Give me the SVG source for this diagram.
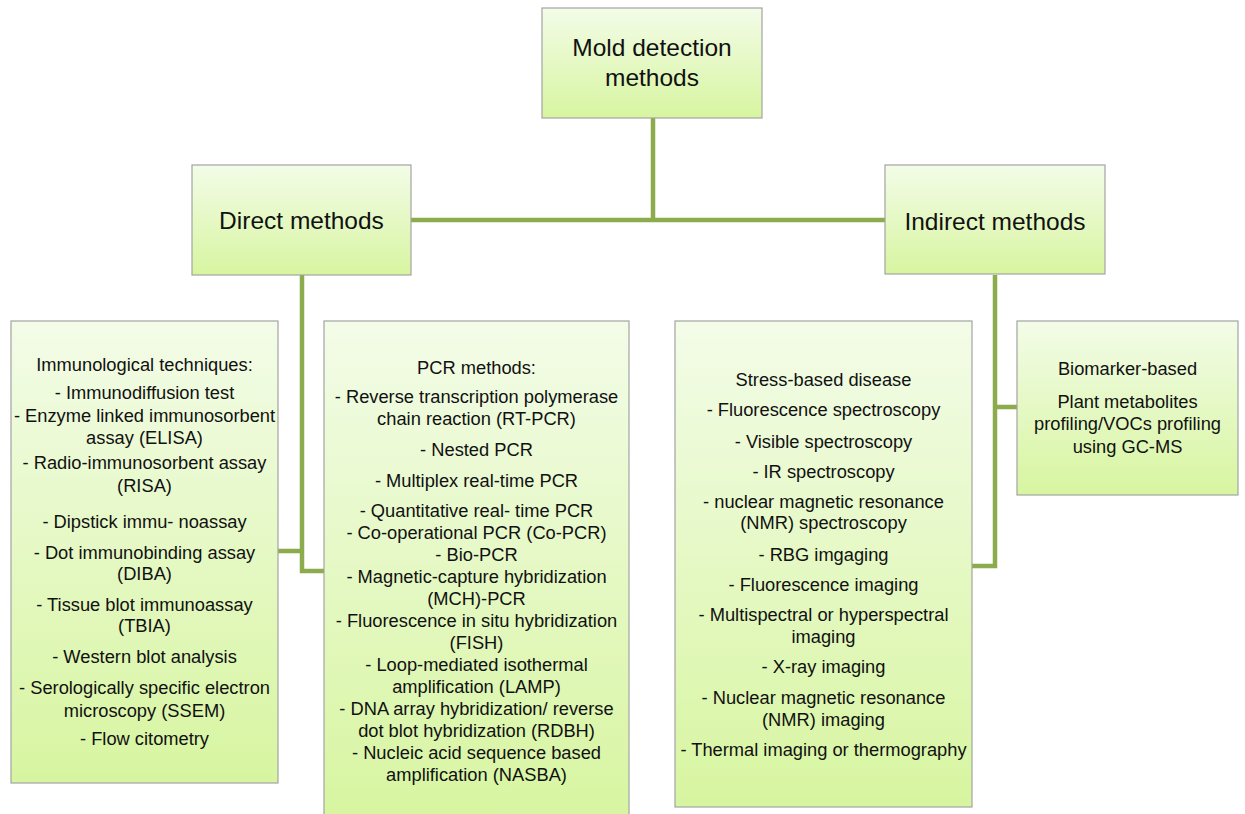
<svg xmlns="http://www.w3.org/2000/svg" width="1245" height="814" viewBox="0 0 1245 814">
<defs>
<linearGradient id="g" x1="0" y1="0" x2="0" y2="1">
<stop offset="0" stop-color="#f3fce8"/>
<stop offset="1" stop-color="#d7f5a0"/>
</linearGradient>
<style>
.box{fill:url(#g);stroke:#a3a3a3;stroke-width:1.2}
.t{font-family:"Liberation Sans",Arial,sans-serif;font-size:18.3px;fill:#111;text-anchor:middle}
.h{font-family:"Liberation Sans",Arial,sans-serif;font-size:24.5px;fill:#111;text-anchor:middle}
.c{fill:none;stroke:#8cab4d;stroke-width:4.5}
</style>
</defs>
<rect width="1245" height="814" fill="#fff"/>
<g id="connectors">
<path class="c" d="M653 118V220M411 220H885"/>
<path class="c" d="M302 275V571H324M278 551H302"/>
<path class="c" d="M995 275V566H972M995 407H1017"/>
</g>
<g id="root">
<rect class="box" x="542" y="8" width="220" height="110"/>
<text class="h" x="652" y="56">Mold detection</text>
<text class="h" x="652" y="86">methods</text>
</g>
<g id="direct">
<rect class="box" x="192" y="165" width="219" height="110"/>
<text class="h" x="301.5" y="229">Direct methods</text>
</g>
<g id="indirect">
<rect class="box" x="885" y="165" width="220" height="109"/>
<text class="h" x="995" y="230">Indirect methods</text>
</g>
<g id="immuno">
<rect class="box" x="11" y="321" width="267" height="462"/>
<text class="t" x="144.5" y="371">Immunological techniques:</text>
<text class="t" x="144.5" y="399">- Immunodiffusion test</text>
<text class="t" x="144.5" y="422">- Enzyme linked immunosorbent</text>
<text class="t" x="144.5" y="444">assay (ELISA)</text>
<text class="t" x="144.5" y="469">- Radio-immunosorbent assay</text>
<text class="t" x="144.5" y="492">(RISA)</text>
<text class="t" x="144.5" y="528">- Dipstick immu- noassay</text>
<text class="t" x="144.5" y="559">- Dot immunobinding assay</text>
<text class="t" x="144.5" y="580">(DIBA)</text>
<text class="t" x="144.5" y="611">- Tissue blot immunoassay</text>
<text class="t" x="144.5" y="632">(TBIA)</text>
<text class="t" x="144.5" y="663">- Western blot analysis</text>
<text class="t" x="144.5" y="694">- Serologically specific electron</text>
<text class="t" x="144.5" y="717">microscopy (SSEM)</text>
<text class="t" x="144.5" y="745">- Flow citometry</text>
</g>
<g id="pcr">
<rect class="box" x="324" y="321" width="305" height="500"/>
<text class="t" x="476.5" y="374">PCR methods:</text>
<text class="t" x="476.5" y="403">- Reverse transcription polymerase</text>
<text class="t" x="476.5" y="425">chain reaction (RT-PCR)</text>
<text class="t" x="476.5" y="456">- Nested PCR</text>
<text class="t" x="476.5" y="487">- Multiplex real-time PCR</text>
<text class="t" x="476.5" y="517">- Quantitative real- time PCR</text>
<text class="t" x="476.5" y="539">- Co-operational PCR (Co-PCR)</text>
<text class="t" x="476.5" y="561">- Bio-PCR</text>
<text class="t" x="476.5" y="583">- Magnetic-capture hybridization</text>
<text class="t" x="476.5" y="605">(MCH)-PCR</text>
<text class="t" x="476.5" y="627">- Fluorescence in situ hybridization</text>
<text class="t" x="476.5" y="649">(FISH)</text>
<text class="t" x="476.5" y="671">- Loop-mediated isothermal</text>
<text class="t" x="476.5" y="693">amplification (LAMP)</text>
<text class="t" x="476.5" y="715">- DNA array hybridization/ reverse</text>
<text class="t" x="476.5" y="737">dot blot hybridization (RDBH)</text>
<text class="t" x="476.5" y="759">- Nucleic acid sequence based</text>
<text class="t" x="476.5" y="781">amplification (NASBA)</text>
</g>
<g id="stress">
<rect class="box" x="675" y="321" width="297" height="486"/>
<text class="t" x="823.5" y="386">Stress-based disease</text>
<text class="t" x="823.5" y="416">- Fluorescence spectroscopy</text>
<text class="t" x="823.5" y="448">- Visible spectroscopy</text>
<text class="t" x="823.5" y="478">- IR spectroscopy</text>
<text class="t" x="823.5" y="508">- nuclear magnetic resonance</text>
<text class="t" x="823.5" y="529">(NMR) spectroscopy</text>
<text class="t" x="823.5" y="561">- RBG imgaging</text>
<text class="t" x="823.5" y="591">- Fluorescence imaging</text>
<text class="t" x="823.5" y="621">- Multispectral or hyperspectral</text>
<text class="t" x="823.5" y="643">imaging</text>
<text class="t" x="823.5" y="673">- X-ray imaging</text>
<text class="t" x="823.5" y="704">- Nuclear magnetic resonance</text>
<text class="t" x="823.5" y="726">(NMR) imaging</text>
<text class="t" x="823.5" y="756">- Thermal imaging or thermography</text>
</g>
<g id="biomarker">
<rect class="box" x="1017" y="321" width="221" height="174"/>
<text class="t" x="1127.5" y="375">Biomarker-based</text>
<text class="t" x="1127.5" y="408">Plant metabolites</text>
<text class="t" x="1127.5" y="430">profiling/VOCs profiling</text>
<text class="t" x="1127.5" y="453">using GC-MS</text>
</g>
</svg>
